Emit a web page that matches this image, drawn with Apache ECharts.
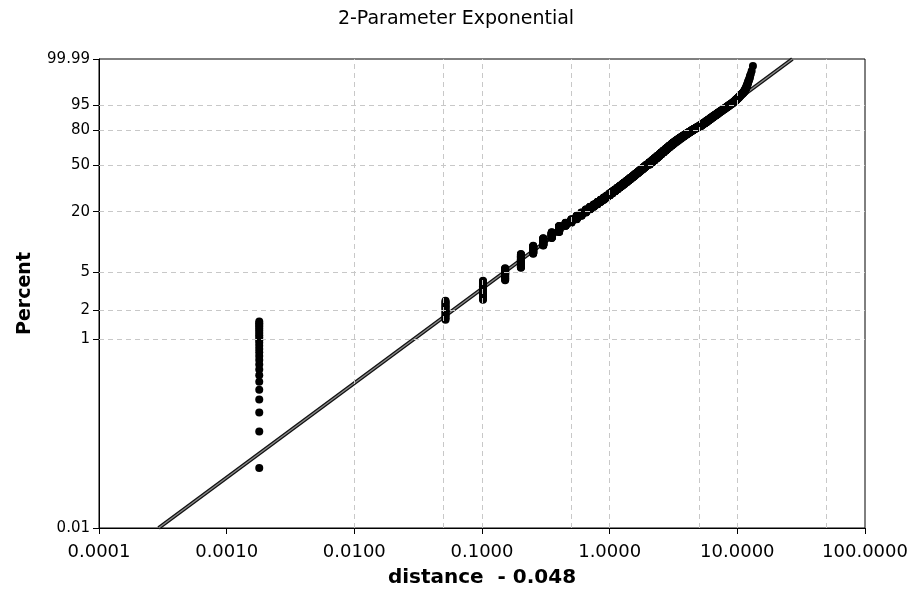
<!DOCTYPE html>
<html>
<head>
<meta charset="utf-8">
<script src="https://cdn.jsdelivr.net/npm/echarts@6/dist/echarts.min.js"></script>
<style>
  html, body { margin: 0; padding: 0; background: #fff; }
  #chart { width: 912px; height: 593px; }
</style>
</head>
<body>
<div id="chart"></div>
<script>
// Sorted sample as a frequency table: distinct distances and how many observations share each.
const distance = [
  0.05, 0.10, 0.15, 0.20, 0.25, 0.30, 0.35, 0.40, 0.45,
  0.50, 0.55, 0.60, 0.65, 0.70, 0.75, 0.80, 0.85, 0.90, 0.95, 1.00,
  1.05, 1.10, 1.15, 1.20, 1.25, 1.30, 1.35, 1.40, 1.45, 1.50,
  1.55, 1.60, 1.65, 1.70, 1.75, 1.80, 1.85, 1.90, 1.95, 2.00,
  2.1, 2.2, 2.3, 2.4, 2.5, 2.6, 2.7, 2.8, 2.9, 3.0,
  3.1, 3.2, 3.3, 3.4, 3.5, 3.6, 3.7, 3.8, 3.9, 4.0,
  4.1, 4.2, 4.3, 4.4, 4.5, 4.6, 4.7, 4.8, 4.9, 5.0,
  5.2, 5.4, 5.6, 5.8, 6.0, 6.2, 6.4, 6.6, 6.8, 7.0,
  7.2, 7.4, 7.6, 7.8, 8.0, 8.2, 8.4, 8.6, 8.8, 9.0, 9.2,
  9.4, 9.6, 9.8, 10.0, 10.2, 10.4, 10.6, 10.8, 11.0, 11.2, 11.4,
  11.6, 11.8, 12.0, 12.2, 12.4, 12.6, 12.8, 13.0, 13.3
];
const count = [
  25, 16, 25, 23, 35, 26, 29, 26, 31,
  18, 20, 22, 22, 22, 20, 19, 20, 19, 20, 19,
  20, 20, 19, 19, 19, 19, 19, 18, 18, 18,
  18, 18, 18, 17, 17, 17, 17, 17, 17, 16,
  31, 30, 30, 29, 28, 27, 26, 25, 24, 23,
  22, 21, 18, 17, 16, 15, 14, 13, 13, 12,
  12, 11, 11, 10, 10, 9, 9, 9, 8, 8,
  16, 16, 15, 15, 14, 13, 12, 11, 10, 10,
  9, 8, 8, 7, 7, 6, 6, 6, 5, 5, 5,
  5, 5, 5, 5, 4, 4, 4, 3, 3, 3, 4,
  4, 4, 4, 3, 2, 2, 1, 1, 1
];

// Fitted 2-parameter exponential: location (threshold) and scale.
const threshold = 0.0482;
const expScale = 2.93;

// Probability-axis ticks (percent) and their labels.
const yTickPercents = [0.01, 1, 2, 5, 20, 50, 80, 95, 99.99];
const yTickLabels = ['0.01', '1', '2', '5', '20', '50', '80', '95', '99.99'];
const yGridPercents = [1, 2, 5, 20, 50, 80, 95];
const xGridValues = [0.0005, 0.001, 0.005, 0.01, 0.05, 0.1, 0.5, 1, 5, 10, 50];

const FONT = "'DejaVu Sans', Verdana, sans-serif";

// Exponential probability scale: log10 of the cumulative hazard.
function probY(pct) { return Math.log10(-Math.log(1 - pct / 100)); }

const yTickValues = yTickPercents.map(probY);
function yLabel(v) {
  for (let i = 0; i < yTickValues.length; i++) {
    if (Math.abs(yTickValues[i] - v) < 1e-6) return yTickLabels[i];
  }
  return '';
}

// Plotting positions: Benard's median ranks.
const n = count.reduce((a, b) => a + b, 0);
const points = [];
let rank = 0;
distance.forEach((d, k) => {
  for (let j = 0; j < count[k]; j++) {
    rank++;
    const p = (rank - 0.3) / (n + 0.4);
    points.push([d - threshold, Math.log10(-Math.log(1 - p))]);
  }
});

// Fitted line across the full probability range.
const fitLine = [0.01, 99.99].map(pct => [expScale * (-Math.log(1 - pct / 100)), probY(pct)]);

const chart = echarts.init(document.getElementById('chart'), null, { renderer: 'canvas' });
chart.setOption({
  animation: false,
  backgroundColor: '#fff',
  title: {
    text: '2-Parameter Exponential',
    left: 'center',
    top: 5,
    textStyle: { fontFamily: FONT, fontSize: 19, fontWeight: 'normal', color: '#000' }
  },
  grid: {
    left: 99, right: 47, top: 59, bottom: 63,
    show: true, borderColor: '#000', borderWidth: 1, backgroundColor: 'transparent'
  },
  xAxis: {
    type: 'log',
    logBase: 10,
    min: 0.0001,
    max: 100,
    axisLine: { show: true, onZero: false, lineStyle: { color: '#000', width: 1 } },
    axisTick: { show: true, length: 6, lineStyle: { color: '#000' } },
    axisLabel: {
      fontFamily: FONT, fontSize: 18, color: '#000', margin: 15,
      formatter: v => Number(v).toFixed(4)
    },
    splitLine: { show: false },
    name: 'distance  - 0.048',
    nameLocation: 'middle',
    nameGap: 40,
    nameTextStyle: { fontFamily: FONT, fontSize: 20, fontWeight: 'bold', color: '#000' }
  },
  yAxis: {
    type: 'value',
    min: probY(0.01),
    max: probY(99.99),
    axisLine: { show: true, onZero: false, lineStyle: { color: '#000', width: 1 } },
    axisTick: { show: true, length: 6, customValues: yTickValues, lineStyle: { color: '#000' } },
    axisLabel: {
      customValues: yTickValues,
      fontFamily: FONT, fontSize: 15, color: '#000', margin: 9,
      formatter: v => yLabel(v)
    },
    splitLine: { show: false },
    name: 'Percent',
    nameLocation: 'middle',
    nameGap: 64,
    nameTextStyle: { fontFamily: FONT, fontSize: 19, fontWeight: 'bold', color: '#000' }
  },
  series: [
    {
      type: 'line',
      data: [],
      z: 1,
      silent: true,
      markLine: {
        silent: true,
        animation: false,
        symbol: ['none', 'none'],
        label: { show: false },
        emphasis: { disabled: true },
        lineStyle: { color: '#c8c8c8', type: [5, 4], width: 1 },
        data: [
          ...xGridValues.map(v => ({ xAxis: v })),
          ...yGridPercents.map(p => ({ yAxis: probY(p) }))
        ]
      }
    },
    {
      type: 'line',
      data: fitLine,
      symbol: 'none',
      silent: true,
      z: 2,
      lineStyle: { color: '#111', width: 4 }
    },
    {
      type: 'line',
      data: fitLine,
      symbol: 'none',
      silent: true,
      z: 2,
      lineStyle: { color: '#8a8a8a', width: 1.4 }
    },
    {
      type: 'scatter',
      data: points,
      symbol: 'circle',
      symbolSize: 8,
      silent: true,
      z: 3,
      itemStyle: { color: '#000', opacity: 1 }
    }
  ]
});
</script>
</body>
</html>
